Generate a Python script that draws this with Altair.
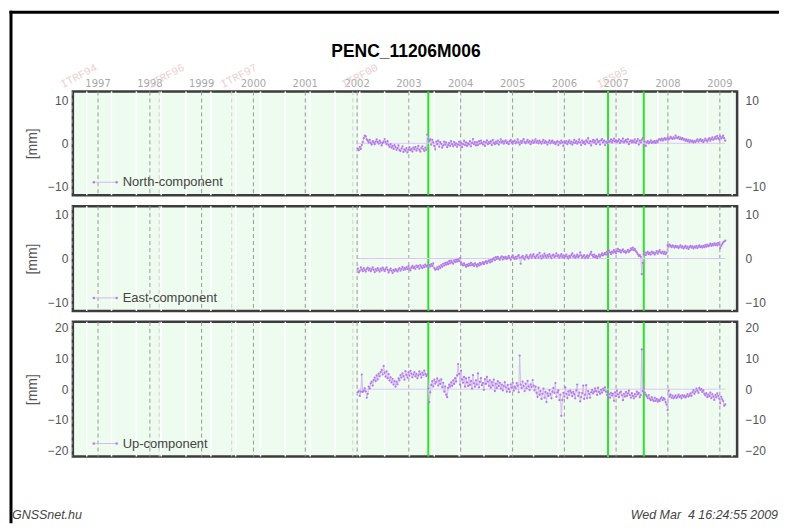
import altair as alt
import pandas as pd

# ---------------- data ----------------
start_week = 1148
north = [
    -1.2, -1.6, -0.8, -1.3, -0.4, 0.3, 1.2, 1.8, 1.6, 0.9, 0.6, 0.2, 0.8, 0.1, -0.3, 0.5, 0.2, -0.2, 0.4, 0.9,
    0.3, -0.1, 0.6, 0.2, -0.5, 0.1, 0.4, 1.0, 0.3, -0.2, 0.5, -0.4, -0.8, -0.2, -1.0, -0.6, -1.3, -0.4, -0.9, -1.5,
    -1.1, -0.5, -1.6, -1.8, -1.2, -0.7, -2.0, -1.4, -1.7, -1.1, -2.1, -1.5, -0.9, -1.6, -1.3, -1.9, -1.0, -1.4, -0.8, -1.7,
    -1.2, -0.6, -1.5, -1.9, -1.1, -0.7, -1.4, -1.8, -1.0, -1.5, 2.0, 1.0, 0.6, 0.9, -0.3, 0.8, 0.2, -0.6, -1.4, 0.4,
    -0.2, 0.6, -0.8, 0.3, -0.1, -1.0, -0.5, 0.4, -0.3, 0.2, -0.9, -0.4, 0.1, -0.6, 0.5, -0.2, -0.7, 0.3, -0.4, 0.0,
    -0.8, -0.3, 0.4, -0.5, 0.1, -0.9, -0.2, 0.6, -0.4, 0.2, -0.6, 0.0, -0.3, 0.5, -0.7, 0.1, 1.0, -0.2, 0.3, -0.5,
    0.2, -0.4, 0.5, -0.1, 0.6, 0.1, -0.3, 0.4, -0.6, 0.2, 0.7, -0.2, 0.3, 0.0, 0.5, -0.4, 0.8, 0.1, -0.2, 0.4,
    0.0, 0.6, -0.3, 0.3, 0.9, 0.2, 0.5, -0.1, 0.4, 0.7, 0.1, 0.3, -0.2, 0.5, 0.8, 0.2, -0.1, 0.4, 0.6, 0.0,
    0.3, 0.9, 0.2, -0.3, 0.5, 0.1, 0.6, 1.0, 0.3, 0.0, 0.4, 0.8, 0.2, 0.5, -0.2, 0.3, 0.7, 0.1, 0.4, 0.9,
    0.2, 0.5, 0.0, 0.6, 0.3, -0.1, 0.4, 0.8, 0.1, 0.5, 0.2, -0.3, 0.3, 0.7, 0.0, 0.4, 0.6, 0.1, 0.3, -0.2,
    0.2, 0.5, -0.4, 0.3, 0.0, 0.6, 0.2, -0.6, 0.4, 0.1, 0.5, -0.2, 0.3, 0.7, 0.0, 0.4, -0.3, 0.2, 0.8, 0.1,
    0.5, -0.1, 0.3, 0.9, 0.2, -0.4, 0.6, 0.1, 0.4, -0.2, 0.7, 0.3, 1.2, 0.0, 0.5, -0.5, 0.4, 0.8, 0.2, 0.6,
    -0.2, 0.9, 0.3, 0.5, -0.3, 0.7, 1.0, 0.2, 0.6, -0.4, 0.4, 0.1, 0.8, 0.3, 0.5, 0.9, 0.2, 0.6, 1.1, 0.4,
    0.7, 0.3, 0.5, 0.9, 0.1, 0.6, 0.4, 1.1, 0.2, 0.5, 0.8, 0.3, 1.0, -0.2, 0.4, 0.7, 0.2, 0.6, 0.3, 0.9,
    0.1, 0.5, 1.0, -0.3, 0.6, 0.2, 0.8, 1.2, -0.4, 0.4, -0.6, 0.2, 0.5, 0.0, 0.3, 0.7, 0.1, 0.4, 0.2, 0.5,
    0.1, 0.6, 0.3, 0.8, 1.0, 0.7, 1.1, 0.6, 0.9, 1.2, 0.8, 1.0, 1.3, 0.9, 1.1, 1.5, 1.2, 1.0, 1.4, 1.1,
    1.8, 1.3, 1.2, 1.5, 1.0, 1.3, 0.9, 1.2, 0.8, 1.0, 0.6, 0.9, 0.5, 0.8, 0.3, 0.7, 0.4, 0.6, 0.2, 0.5,
    0.3, 0.6, 0.9, 0.4, 0.7, 1.0, 0.5, 0.8, 0.3, 0.6, 1.1, 0.7, 0.4, 0.9, 1.2, 0.6, 1.0, 1.4, 0.8, 1.1,
    1.5, 1.0, 1.7, 1.2, 0.9, 1.6, 1.1, 1.4, 1.8, 1.2, 0.6,
]
east = [
    -2.3, -3.2, -2.8, -2.0, -2.5, -2.9, -2.2, -2.6, -3.0, -2.4, -2.1, -2.7, -2.3, -2.9, -2.5, -2.0, -2.6, -3.1, -2.4, -2.8,
    -2.2, -2.6, -3.0, -2.3, -2.7, -2.1, -2.5, -2.9, -2.4, -2.0, -2.6, -3.2, -2.7, -2.3, -2.8, -3.3, -2.6, -2.9, -2.4, -2.7,
    -3.0, -2.5, -2.2, -2.8, -2.4, -1.9, -2.6, -2.2, -2.5, -2.0, -2.4, -1.8, -2.3, -2.7, -2.1, -1.7, -2.2, -1.9, -2.4, -1.6,
    -2.0, -1.7, -2.3, -1.5, -1.9, -2.2, -1.6, -2.0, -1.4, -1.8, -1.6, -2.1, -1.5, -1.8, -1.3, -1.7, -1.1, -2.2, -2.6, -2.4,
    -2.0, -2.5, -1.8, -2.2, -1.5, -1.9, -1.2, -1.6, -1.0, -1.4, -0.9, -1.3, -0.6, -1.1, -0.5, -0.9, -1.2, -0.4, -0.8, -0.3,
    -0.7, -0.2, -0.6, 0.1, -0.9, -1.3, -1.6, -1.1, -1.5, -1.9, -1.4, -1.7, -1.2, -1.6, -1.0, -1.5, -1.3, -1.7, -1.1, -1.4,
    -1.8, -1.3, -1.6, -1.0, -1.4, -1.1, -0.8, -1.3, -0.9, -0.6, -1.1, -0.7, -0.4, -0.9, -0.3, -0.7, -0.2, 0.1, -0.4, 0.3,
    -0.1, 0.4, 0.0, -0.3, 0.2, 0.5, -0.2, 0.3, 0.0, 0.4, -0.1, 0.2, 0.6, 0.1, -0.3, 0.3, 0.7, 0.2, -0.1, 0.4,
    0.0, 0.5, 0.8, 0.2, -1.2, 0.3, 0.6, 0.1, -0.2, 0.4, 0.8, 0.3, 0.0, 0.5, 0.9, 0.2, 0.6, 1.0, 0.4, 0.1,
    0.6, 0.9, 0.2, 1.3, 0.5, 0.0, 0.7, 0.3, 1.1, 0.6, 0.2, 0.8, 0.4, 1.0, 0.5, 0.1, 0.7, 0.9, 0.3, 0.6,
    1.2, 0.5, 0.8, 0.2, 0.6, 1.0, 0.3, 0.7, 0.1, 0.5, 0.9, 0.4, 0.0, 0.6, 0.3, 0.8, 1.2, 0.4, 0.7, 0.2,
    0.5, 0.9, 0.3, 0.6, 1.4, 0.7, 0.2, 0.5, 0.8, 0.1, 0.4, 0.7, 0.2, 0.6, 1.0, 1.5, 0.8, 0.4, 0.9, 0.3,
    0.6, 0.1, 0.5, 0.9, 0.4, 0.8, 1.2, 0.7, 1.0, 1.3, 0.9, 1.5, 1.1, 1.8, 1.4, 1.0, 1.6, 1.3, 1.9, 1.5,
    1.2, 1.7, 2.2, 1.6, 1.9, 1.4, 1.8, 2.1, 1.5, 1.7, 1.3, 1.6, 2.0, 1.5, 1.8, 2.3, 2.0, 2.5, 1.9, 2.2,
    1.7, 1.4, 1.0, 0.6, 0.8, 0.4, -3.6, -1.0, 0.9, 1.4, 0.8, 1.2, 1.5, 1.0, 1.3, 0.9, 1.6, 1.2, 1.4, 0.9,
    1.3, 1.7, 1.1, 1.5, 1.9, 1.4, 1.2, 1.6, 1.1, 1.5, 1.0, 1.3, 3.0, 2.7, 3.2, 2.9, 2.6, 3.0, 2.8, 2.5,
    2.9, 2.6, 2.8, 2.4, 2.7, 3.0, 2.5, 2.8, 2.3, 2.6, 2.9, 2.4, 2.7, 2.2, 2.6, 2.9, 2.5, 2.8, 2.3, 2.7,
    2.5, 2.9, 2.4, 2.7, 3.0, 2.6, 2.8, 2.5, 2.9, 2.6, 3.1, 2.7, 3.2, 2.8, 3.0, 3.4, 2.9, 3.3, 3.0, 3.5,
    3.1, 3.4, 3.0, 3.6, 3.2, 2.4, 2.9, 3.3, 3.7, 3.9, 4.1,
]
up = [
    -1.0, -0.6, -2.2, -0.8, 4.8, -0.9, -0.5, 0.3, -0.7, -2.8, -1.5, 0.8, 0.2, 1.9, 2.5, 1.2, 3.0, 3.8, 2.6, 4.5,
    3.2, 5.1, 4.2, 5.6, 6.3, 4.8, 7.6, 5.4, 4.1, 5.8, 3.6, 4.9, 2.8, 3.9, 2.2, 3.4, 1.5, 2.7, 0.8, 2.4,
    1.6, 3.5, 2.9, 4.6, 3.8, 5.2, 4.3, 3.1, 5.9, 4.7, 3.8, 5.5, 4.4, 6.0, 5.1, 3.9, 4.8, 5.6, 4.2, 5.0,
    3.6, 4.5, 5.8, 4.9, 3.8, 5.4, 4.6, 6.1, 5.0, 4.3, 4.8, 0.2, -4.2, -1.0, 1.4, 2.6, 0.9, 3.1, 1.8, 2.4,
    3.5, 1.2, 2.8, 1.7, 3.2, 0.6, 2.1, -0.8, 0.9, -1.8, -2.6, 0.4, 1.5, 0.8, 2.2, 1.1, 2.9, 1.7, 3.6, 2.5,
    4.5, 8.2, 5.0, 1.5, 6.1, 3.2, 2.1, 4.0, 0.8, 3.5, 2.2, 1.0, 3.8, 1.4, 2.7, 0.2, 4.6, 1.9, 0.8, 2.9,
    1.5, 5.2, 0.6, 2.4, 3.6, 1.3, 2.0, -0.2, 3.3, 1.7, 4.0, 2.5, 1.1, 3.0, 0.5, 2.3, 1.2, 3.1, -0.6, 1.8,
    0.4, 2.6, 1.0, 2.1, 0.2, 1.5, -0.4, 1.0, 2.3, 0.6, -0.8, 1.4, 0.1, -0.9, 1.6, 0.5, 2.1, -0.5, 0.8, 0.3,
    2.0, 1.2, -1.0, 11.0, 1.5, 0.4, 2.5, 1.0, -0.6, 1.8, 0.3, 2.7, 0.9, -0.3, 1.6, 0.7, 3.0, 1.2, -0.4, 0.8,
    -1.2, -2.5, 0.5, -1.8, -0.6, -3.2, -1.5, 0.2, -2.8, -0.9, -4.2, -1.4, -2.2, -0.3, -1.6, -3.0, -0.8, 0.4, -1.2, 2.0,
    -2.5, -1.0, -0.4, -3.6, -1.8, -8.7, -3.5, -1.2, -2.4, 0.6, -1.5, -2.9, -0.7, -1.9, -0.5, -1.1, -2.3, -0.9, -1.6, -3.0,
    -0.4, 1.5, -2.2, -1.1, -4.0, -2.6, -1.3, 1.2, -3.2, -1.8, 1.3, -2.9, -0.6, -1.5, -2.8, -1.0, -0.2, -1.4, -0.8, 0.3,
    -0.6, -1.9, 0.5, -0.9, -1.5, -0.2, -1.1, 0.2, -0.4, 0.6, -0.8, -1.9, -2.4, -1.6, -2.8, -1.2, -2.1, -1.5, -3.8, -1.0,
    -2.3, -0.5, -1.7, -2.6, -1.2, -0.8, -2.0, -3.6, -1.5, -2.4, -0.9, -2.2, -1.4, -0.5, -1.9, -2.8, -1.3, -2.2, -3.0, -1.6,
    -2.4, -0.8, -1.7, -1.2, -2.6, -1.9, 13.0, -0.6, 0.2, -1.1, -1.8, -2.3, -2.9, -1.9, -3.1, -3.6, -2.6, -3.4, -3.9, -2.8,
    -3.8, -3.2, -4.1, -3.5, -3.9, -3.1, -2.7, -3.6, -2.9, -3.3, -4.2, -5.0, -6.8, -0.5, -2.4, -1.8, -2.8, -2.1, -3.0, -2.5,
    -2.0, -2.9, -2.4, -1.8, -2.6, -2.2, -3.0, -1.9, -2.5, -2.1, -2.7, -2.3, -1.6, -2.4, -2.0, -1.4, -2.2, -1.0, -0.3, -1.5,
    -0.8, 0.2, -0.5, -1.2, 0.4, -0.2, 0.0, -0.9, -0.4, -1.5, -2.0, -1.3, -2.6, -1.8, -2.3, -1.1, -2.9, -1.6, -2.4, -3.5,
    -1.9, -2.7, -1.4, -2.2, -3.1, -4.6, -2.5, -3.3, -3.9, -5.4, -5.0,
]
weeks = list(range(start_week, start_week + len(north)))

year_labels = ["1997", "1998", "1999", "2000", "2001", "2002", "2003",
               "2004", "2005", "2006", "2007", "2008", "2009"]
year_weeks = [886.4, 938.6, 990.7, 1042.9, 1095.1, 1147.3, 1199.4,
              1251.6, 1303.9, 1356.0, 1408.1, 1460.3, 1512.6]
frame_names = ["ITRF94", "ITRF96", "ITRF97", "ITRF00", "IGS05"]
frame_weeks = [860, 948, 1021, 1143, 1400]
break_weeks = [1219, 1400, 1436]
x_tick_values = [900, 950, 1000, 1050, 1100, 1150, 1200, 1250, 1300, 1350, 1400, 1450, 1500]
grid_weeks = [875, 900, 925, 950, 975, 1000, 1025, 1050, 1075, 1100, 1125, 1150, 1175, 1200,
              1225, 1250, 1275, 1300, 1325, 1350, 1375, 1400, 1425, 1450, 1475, 1500, 1525]

title_text = "PENC_11206M006"
footer_left = "GNSSnet.hu"
footer_right = "Wed Mar \u00a04 16:24:55 2009"

# ---------------- styling ----------------
X_DOM = [861, 1530]
W = 666
FONT = "Liberation Sans"
PT_COLOR = "#b47ae8"
LN_COLOR = "#d6baf4"

grid_df = pd.DataFrame({"week": grid_weeks})
year_df = pd.DataFrame({"week": year_weeks, "label": year_labels})
frame_df = pd.DataFrame({"week": frame_weeks, "label": frame_names})
break_df = pd.DataFrame({"week": break_weeks})
zero_df = pd.DataFrame({"week": [weeks[0]], "end": [weeks[-1]], "zero": [0]})


def xenc(axis=None):
    return alt.X("week:Q", scale=alt.Scale(domain=X_DOM, nice=False, zero=False), axis=axis)


def panel(values, name, ydom, yticks, height, first=False, last=False):
    df = pd.DataFrame({"week": weeks, "value": values})
    yscale = alt.Scale(domain=ydom, nice=False, zero=False)

    if last:
        xaxis = alt.Axis(values=x_tick_values, format="d", title="GPS WEEK", labelFontSize=12,
                         labelColor="#555", labelPadding=3, ticks=False, domain=False, grid=False,
                         titleFontSize=15, titleFontWeight="normal", titleColor="#444", titlePadding=2,
                         labelFont=FONT, titleFont=FONT)
    else:
        xaxis = None

    grid = alt.Chart(grid_df).mark_rule(color="white", strokeWidth=1.5).encode(x=xenc(xaxis))
    years = alt.Chart(year_df).mark_rule(color="#999", strokeWidth=1, strokeDash=[4, 3]).encode(x=xenc())
    frames = alt.Chart(frame_df).mark_rule(color="#d2d2d2", strokeWidth=1, strokeDash=[4, 3]).encode(x=xenc())
    breaks = alt.Chart(break_df).mark_rule(color="#2fe02f", strokeWidth=2).encode(x=xenc())
    zero = alt.Chart(zero_df).mark_rule(color="#dcc8f6", strokeWidth=1).encode(
        x=xenc(), x2="end:Q", y=alt.Y("zero:Q", scale=yscale, axis=None))
    line = alt.Chart(df).mark_line(color=LN_COLOR, strokeWidth=1).encode(
        x=xenc(),
        y=alt.Y("value:Q", scale=yscale,
                axis=alt.Axis(orient="left", values=yticks, title="[mm]", grid=False, ticks=False,
                              domain=False, labelFontSize=12, labelColor="#555", labelPadding=5,
                              titleFontSize=14, titleFontWeight="normal", titleColor="#555",
                              titlePadding=8, labelFont=FONT, titleFont=FONT)))
    pts = alt.Chart(df).mark_circle(color=PT_COLOR, size=5, opacity=1).encode(
        x=xenc(),
        y=alt.Y("value:Q", scale=yscale,
                axis=alt.Axis(orient="right", values=yticks, title=None, grid=False, ticks=False,
                              domain=False, labelFontSize=12, labelColor="#555", labelPadding=8,
                              labelFont=FONT)))

    ly = height - 13
    leg_df = pd.DataFrame({"label": [name]})
    leg_line = alt.Chart(leg_df).mark_rule(color=LN_COLOR, strokeWidth=1).encode(
        x=alt.value(21), x2=alt.value(44), y=alt.value(ly))
    leg_p1 = alt.Chart(leg_df).mark_circle(color=PT_COLOR, size=6, opacity=1).encode(
        x=alt.value(21), y=alt.value(ly))
    leg_p2 = alt.Chart(leg_df).mark_circle(color=PT_COLOR, size=6, opacity=1).encode(
        x=alt.value(44), y=alt.value(ly))
    leg_txt = alt.Chart(leg_df).mark_text(align="left", baseline="middle", font=FONT, fontSize=13,
                                          color="#444").encode(
        x=alt.value(50), y=alt.value(ly), text="label:N")

    layers = [grid, years, frames, breaks, zero, line, pts, leg_line, leg_p1, leg_p2, leg_txt]

    if first:
        t_df = pd.DataFrame({"label": [title_text]})
        title = alt.Chart(t_df).mark_text(font=FONT, fontSize=17.5, fontWeight="bold", color="black",
                                          align="center", baseline="middle").encode(
            x=alt.value(334), y=alt.value(-40), text="label:N")
        ylab = alt.Chart(year_df).mark_text(font="DejaVu Sans", fontSize=10, color="#a8a8a8",
                                            align="center", baseline="middle").encode(
            x=xenc(), y=alt.value(-7), text="label:N")
        flab = alt.Chart(frame_df).mark_text(font="Liberation Mono", fontSize=11, color="#ecd0d0",
                                             align="left", baseline="alphabetic", angle=332, dx=-10).encode(
            x=xenc(), y=alt.value(-8), text="label:N")
        top_bar = alt.Chart(t_df).mark_rect(color="black").encode(
            x=alt.value(-63.5), x2=alt.value(708), y=alt.value(-81), y2=alt.value(-78))
        left_bar = alt.Chart(t_df).mark_rect(color="black").encode(
            x=alt.value(-63.5), x2=alt.value(-60.5), y=alt.value(-81), y2=alt.value(433))
        layers += [title, ylab, flab, top_bar, left_bar]

    if last:
        f_df = pd.DataFrame({"l": [footer_left], "r": [footer_right]})
        fl = alt.Chart(f_df).mark_text(font=FONT, fontSize=12.5, fontStyle="italic", color="#444",
                                       align="left", baseline="middle").encode(
            x=alt.value(-61), y=alt.value(194), text="l:N")
        fr = alt.Chart(f_df).mark_text(font=FONT, fontSize=12.5, fontStyle="italic", color="#444",
                                       align="right", baseline="middle").encode(
            x=alt.value(707), y=alt.value(194), text="r:N")
        layers += [fl, fr]

    return alt.layer(*layers).resolve_axis(y="independent").properties(width=W, height=height)


p1 = panel(north, "North-component", [-12, 12], [-10, 0, 10], 104, first=True)
p2 = panel(east, "East-component", [-12, 12], [-10, 0, 10], 105)
p3 = panel(up, "Up-component", [-22, 22], [-20, -10, 0, 10, 20], 135, last=True)

chart = alt.vconcat(p1, p2, p3, spacing=11, bounds="flush").properties(
    padding=0, background="white"
).configure_view(fill="#eefbef", stroke="#3c3c3c", strokeWidth=2.5)

chart.save("out.html", embed_options={"renderer": "svg", "actions": False})
